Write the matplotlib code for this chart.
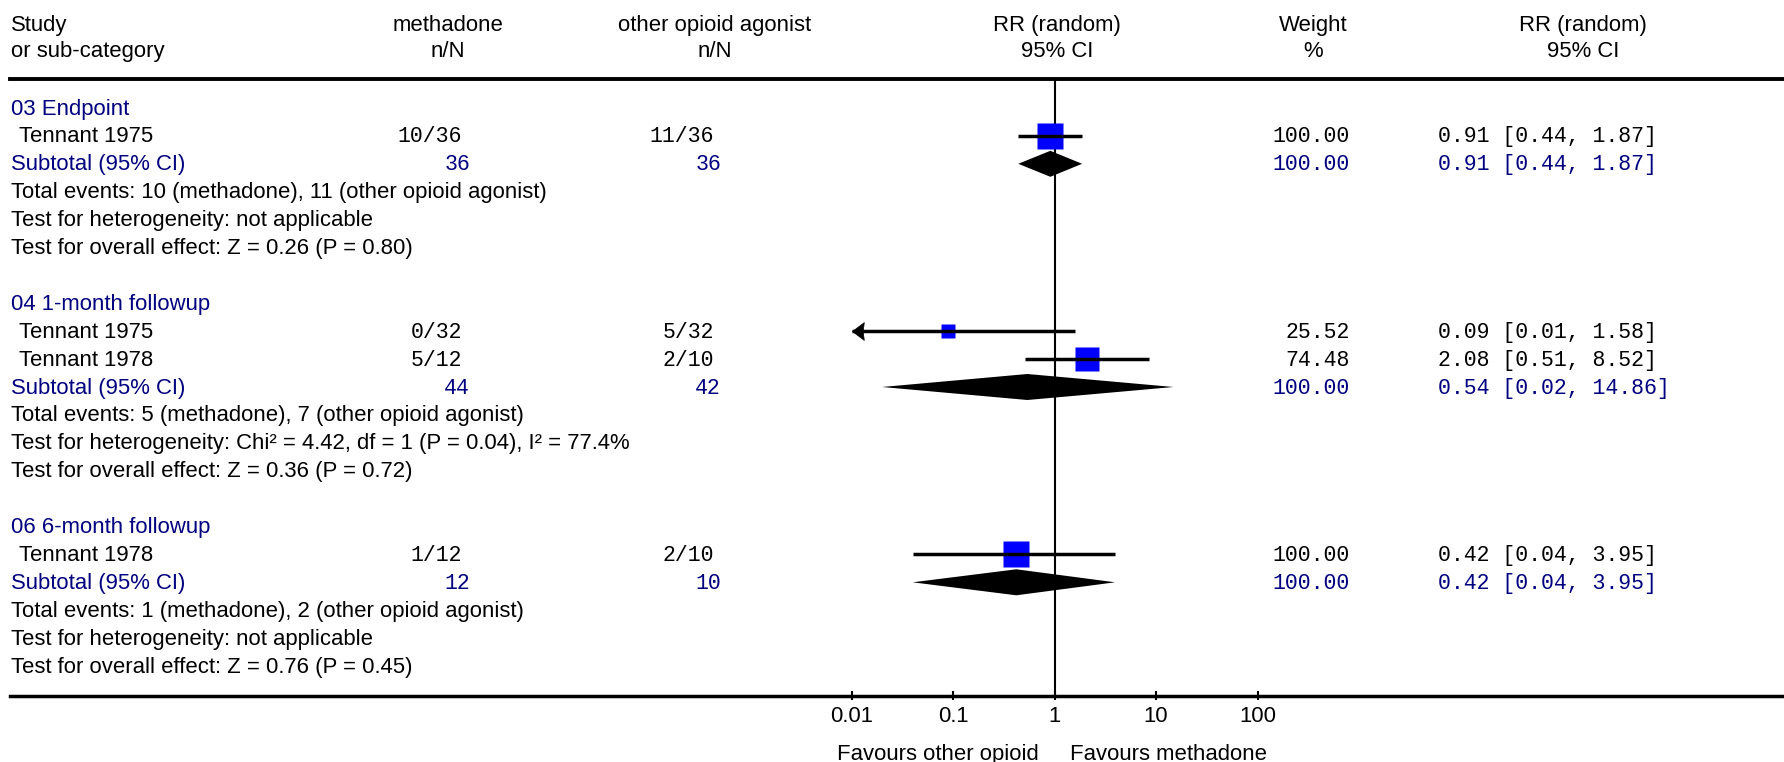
import matplotlib
matplotlib.use("Agg")
import matplotlib.pyplot as plt
from matplotlib.transforms import blended_transform_factory
from matplotlib.path import Path
import numpy as np

# ---------------- data ----------------
group_titles = ["03 Endpoint", "04 1-month followup", "06 6-month followup"]
study_names = [["Tennant 1975"], ["Tennant 1975", "Tennant 1978"], ["Tennant 1978"]]
meth_n = [[10], [0, 5], [1]]
meth_N = [[36], [32, 12], [12]]
other_n = [[11], [5, 2], [2]]
other_N = [[36], [32, 10], [10]]
weights = [[100.00], [25.52, 74.48], [100.00]]
rr = [[0.91], [0.09, 2.08], [0.42]]
rr_lo = [[0.44], [0.01, 0.51], [0.04]]
rr_hi = [[1.87], [1.58, 8.52], [3.95]]
sub_meth_N = [36, 44, 12]
sub_other_N = [36, 42, 10]
sub_weight = [100.00, 100.00, 100.00]
sub_rr = [0.91, 0.54, 0.42]
sub_lo = [0.44, 0.02, 0.04]
sub_hi = [1.87, 14.86, 3.95]
total_events_meth = [10, 5, 1]
total_events_other = [11, 7, 2]
heterogeneity = ["not applicable",
                 "Chi\u00b2 = 4.42, df = 1 (P = 0.04), I\u00b2 = 77.4%",
                 "not applicable"]
overall_effect = ["Z = 0.26 (P = 0.80)", "Z = 0.36 (P = 0.72)", "Z = 0.76 (P = 0.45)"]
tick_values = [0.01, 0.1, 1, 10, 100]
tick_labels = ["0.01", "0.1", "1", "10", "100"]
favours_left = "Favours other opioid"
favours_right = "Favours methadone"
header1 = ["Study", "methadone", "other opioid agonist", "RR (random)", "Weight", "RR (random)"]
header2 = ["or sub-category", "n/N", "n/N", "95% CI", "%", "95% CI"]

# ---------------- layout / style ----------------
W, H = 1784, 762
ROW0, PITCH = 108.0, 27.9
DEC, X1 = 101.5, 1054.5
SANS = "Liberation Sans"
MONO = "Liberation Mono"
FS_SANS = 15.9
FS_MONO = 15.5
BLUE_TXT = "#000080"
SQ_BLUE = "#0000ff"
BASE = 6.5 / PITCH  # baseline offset (rows)

fig = plt.figure(figsize=(W / 100, H / 100), dpi=100)
ax = fig.add_axes([0, 0, 1, 1])
ax.set_xscale("log")
ax.set_xlim(10 ** (-X1 / DEC), 10 ** ((W - X1) / DEC))
ax.set_ylim((H - ROW0) / PITCH, -ROW0 / PITCH)
ax.axis("off")

tr = blended_transform_factory(fig.transFigure, ax.transData)


def prow(px):
    return (px - ROW0) / PITCH


def txt(xpx, row, s, ha="left", color="black", mono=False):
    ax.text(xpx / W, row + BASE, s, transform=tr, ha=ha,
            va="baseline", color=color, family=MONO if mono else SANS,
            fontsize=FS_MONO if mono else FS_SANS)


# header
hx = [(11, "left"), (448, "center"), (715, "center"), (1057, "center"),
      (1313, "center"), (1583, "center")]
for (x, ha), a, b in zip(hx, header1, header2):
    ax.text(x / W, prow(31), a, transform=tr, ha=ha, va="baseline", family=SANS, fontsize=FS_SANS)
    ax.text(x / W, prow(57), b, transform=tr, ha=ha, va="baseline", family=SANS, fontsize=FS_SANS)

header_row = prow(79)
axis_row = prow(696)
ax.axhline(header_row, xmin=10 / W, xmax=1, color="black", lw=2.8)
ax.axhline(axis_row, xmin=10 / W, xmax=1, color="black", lw=2.5)
ax.vlines(1, header_row, axis_row, color="black", lw=1.5, zorder=1)

# arrow marker (tip at origin, pointing left)
arrow_path = Path([(0, 0), (1.33, 1.0), (1.2, 0), (1.33, -1.0), (0, 0)],
                  [Path.MOVETO, Path.LINETO, Path.LINETO, Path.LINETO, Path.CLOSEPOLY])
xmin_plot = tick_values[0]
xmax_plot = tick_values[-1]

SQ_FULL = 27 * 0.72  # points for weight 100
DIA_H = 13.0 / PITCH

row = 0
for g in range(len(group_titles)):
    txt(11, row, group_titles[g], color=BLUE_TXT)
    row += 1
    for i, name in enumerate(study_names[g]):
        txt(19, row, name)
        txt(462, row, f"{meth_n[g][i]}/{meth_N[g][i]}", ha="right", mono=True)
        txt(714, row, f"{other_n[g][i]}/{other_N[g][i]}", ha="right", mono=True)
        txt(1350, row, f"{weights[g][i]:.2f}", ha="right", mono=True)
        txt(1438, row, f"{rr[g][i]:.2f} [{rr_lo[g][i]:.2f}, {rr_hi[g][i]:.2f}]", mono=True)
        lo = max(rr_lo[g][i], xmin_plot)
        hi = min(rr_hi[g][i], xmax_plot)
        ax.plot([rr[g][i]], [row], marker="s", ms=SQ_FULL * np.sqrt(weights[g][i] / 100),
                mfc=SQ_BLUE, mec="none", ls="none", zorder=2)
        ax.plot([lo, hi], [row, row], color="black", lw=2.5, solid_capstyle="butt", zorder=3)
        if rr_lo[g][i] <= xmin_plot:
            ax.plot([xmin_plot], [row], marker=arrow_path, ms=17, mfc="black", mec="black",
                    mew=0.5, ls="none", zorder=4)
        row += 1
    txt(11, row, "Subtotal (95% CI)", color=BLUE_TXT)
    txt(470, row, f"{sub_meth_N[g]}", ha="right", mono=True, color=BLUE_TXT)
    txt(721, row, f"{sub_other_N[g]}", ha="right", mono=True, color=BLUE_TXT)
    txt(1350, row, f"{sub_weight[g]:.2f}", ha="right", mono=True, color=BLUE_TXT)
    txt(1438, row, f"{sub_rr[g]:.2f} [{sub_lo[g]:.2f}, {sub_hi[g]:.2f}]", mono=True, color=BLUE_TXT)
    ax.fill([sub_lo[g], sub_rr[g], sub_hi[g], sub_rr[g]],
            [row, row - DIA_H, row, row + DIA_H], color="black", lw=0, zorder=3)
    row += 1
    txt(11, row, f"Total events: {total_events_meth[g]} (methadone), "
                 f"{total_events_other[g]} (other opioid agonist)")
    row += 1
    txt(11, row, f"Test for heterogeneity: {heterogeneity[g]}")
    row += 1
    txt(11, row, f"Test for overall effect: {overall_effect[g]}")
    row += 2

# axis ticks and labels
ax.vlines(tick_values, axis_row - 5 / PITCH, axis_row + 4 / PITCH, color="black", lw=1.5)
for v, lab in zip(tick_values, tick_labels):
    ax.text(v, prow(722), lab, ha="center", va="baseline", family=SANS, fontsize=FS_SANS)
ax.text(0.7, prow(760), favours_left, ha="right", va="baseline", family=SANS, fontsize=FS_SANS)
ax.text(1.43, prow(760), favours_right, ha="left", va="baseline", family=SANS, fontsize=FS_SANS)

fig.savefig("out.png", dpi=100)
